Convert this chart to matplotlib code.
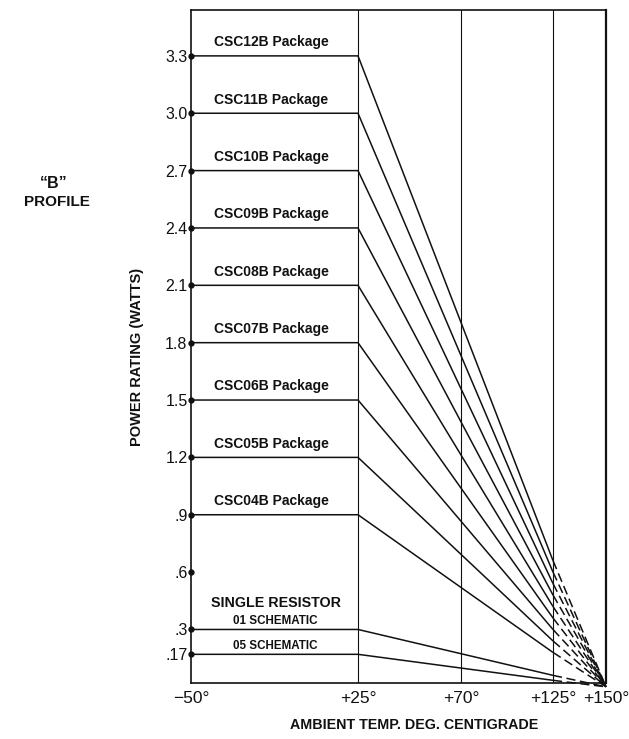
import numpy as np
import matplotlib
matplotlib.use("Agg")
import matplotlib.pyplot as plt

# ---- data ----
packages = ["CSC04B", "CSC05B", "CSC06B", "CSC07B", "CSC08B",
            "CSC09B", "CSC10B", "CSC11B", "CSC12B"]
package_watts = [0.9, 1.2, 1.5, 1.8, 2.1, 2.4, 2.7, 3.0, 3.3]
schematics = ["01 SCHEMATIC", "05 SCHEMATIC"]
schematic_watts = [0.3, 0.17]
y_ticks = [0.17, 0.3, 0.6, 0.9, 1.2, 1.5, 1.8, 2.1, 2.4, 2.7, 3.0, 3.3]
y_tick_labels = [".17", ".3", ".6", ".9", "1.2", "1.5", "1.8", "2.1", "2.4", "2.7", "3.0", "3.3"]
x_ticks = [-50, 25, 70, 125, 150]
x_tick_labels = ["\u221250\u00b0", "+25\u00b0", "+70\u00b0", "+125\u00b0", "+150\u00b0"]
t_min, t_knee, t_dash, t_max = -50, 25, 125, 150

# ---- style ----
plt.rcParams['font.family'] = ['Liberation Sans', 'DejaVu Sans']
INK = "#111111"

fig = plt.figure(figsize=(6.29, 7.39), dpi=100)
ax = fig.add_axes([191/629, 1-683/739, (606-191)/629, (683-10)/739])

# piecewise-linear temperature scale (as drawn on the original sheet)
_scale_t = np.array([-50, 25, 70, 125, 150], dtype=float)
_scale_p = np.array([191, 358, 461, 553, 606], dtype=float)
def _fwd(x):
    return np.interp(np.asarray(x, dtype=float), _scale_t, _scale_p)
def _inv(p):
    return np.interp(np.asarray(p, dtype=float), _scale_p, _scale_t)
ax.set_xscale('function', functions=(_fwd, _inv))
ax.set_xlim(t_min, t_max)
ax.set_ylim(0.02, 3.54)

# vertical grid lines
for t in x_ticks[1:4]:
    ax.axvline(t, color=INK, lw=0.8, zorder=1)

def draw_curve(v):
    v125 = v * (t_max - t_dash) / (t_max - t_knee)
    ax.plot([t_min, t_knee, t_dash], [v, v, v125], color=INK, lw=1.1,
            solid_capstyle='butt', zorder=3)
    ax.plot([t_dash, t_max], [v125, 0.0], color=INK, lw=1.1,
            linestyle=(0, (6, 3)), zorder=3, clip_on=False)

for name, v in zip(packages, package_watts):
    draw_curve(v)
    ax.annotate(f"{name} Package", xy=(-14, v), xytext=(0, 7),
                textcoords='offset points', ha='center', va='baseline',
                fontsize=10, fontweight='bold', color=INK)

for name, v in zip(schematics, schematic_watts):
    draw_curve(v)
    ax.annotate(name, xy=(-12, v), xytext=(0, 4),
                textcoords='offset points', ha='center', va='baseline',
                fontsize=8.4, fontweight='bold', color=INK)

ax.annotate("SINGLE RESISTOR", xy=(-12, schematic_watts[0]), xytext=(0, 16),
            textcoords='offset points', ha='center', va='baseline',
            fontsize=10.3, fontweight='bold', color=INK)

# dots on the left axis at each tick
ax.plot([t_min] * len(y_ticks), y_ticks, 'o', color=INK, ms=3.5,
        clip_on=False, zorder=5)

ax.set_yticks(y_ticks)
ax.set_yticklabels(y_tick_labels)
ax.set_xticks(x_ticks)
ax.set_xticklabels(x_tick_labels)
ax.tick_params(axis='y', length=0, pad=2.5, labelsize=11.5, labelcolor=INK)
ax.tick_params(axis='x', length=0, pad=6, labelsize=12.5, labelcolor=INK)
ax.minorticks_off()

for s in ax.spines.values():
    s.set_color(INK)
    s.set_linewidth(1.2)
ax.spines['right'].set_linewidth(1.6)

ax.set_xlabel("AMBIENT TEMP. DEG. CENTIGRADE", fontsize=10.3, fontweight='bold', color=INK)
ax.xaxis.set_label_coords(0.537, -0.052)
ax.set_ylabel("POWER RATING (WATTS)", fontsize=10.5, fontweight='bold', color=INK)
ax.yaxis.set_label_coords(-0.113, 0.484)

fig.text(54/629, 1-183/739, "\u201cB\u201d", ha='center', va='center',
         fontsize=11.5, fontweight='bold', color=INK)
fig.text(57/629, 1-202/739, "PROFILE", ha='center', va='center',
         fontsize=11, fontweight='bold', color=INK)

fig.savefig("out.png", dpi=100, facecolor='white')
